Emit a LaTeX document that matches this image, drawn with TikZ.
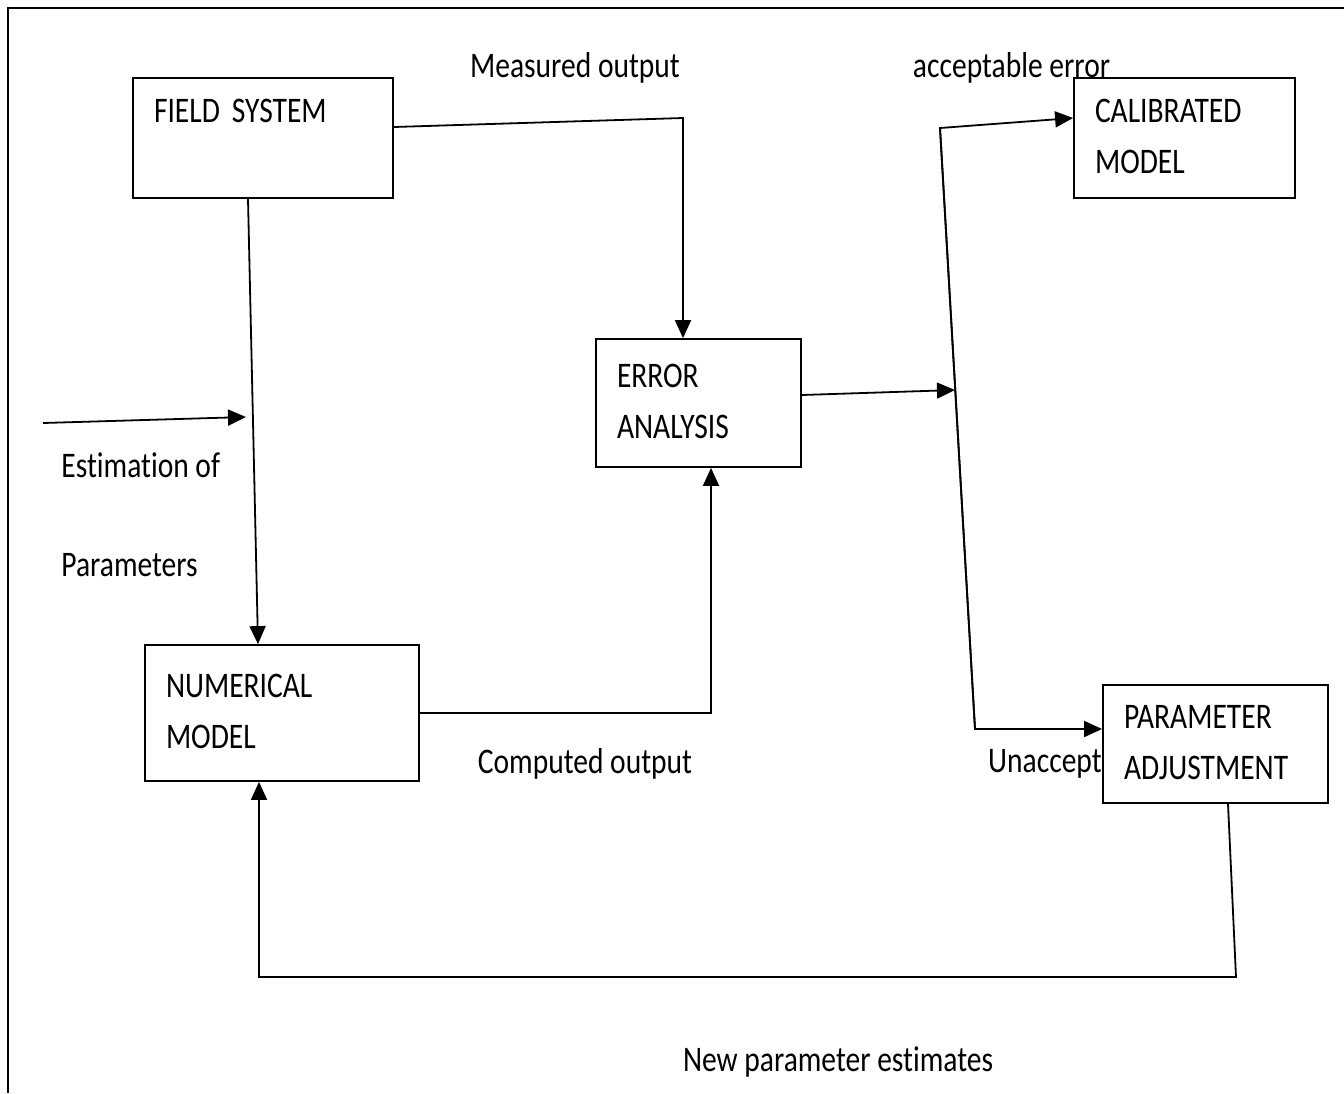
\documentclass[tikz,border=0pt]{standalone}
\usepackage{fontspec}
\setmainfont{Carlito}[FakeStretch=0.82, Ligatures=NoCommon]
\usepackage{tikz}
\usetikzlibrary{calc,positioning,arrows.meta}

\tikzset{
    box/.style={draw, line width=0.9pt, inner xsep=10.5pt, inner ysep=0pt, align=left,
        font={\fontsize{18pt}{25.5pt}\selectfont}},
    lbl/.style={inner sep=0pt, font={\fontsize{18pt}{22pt}\selectfont}},
    arr/.style={line width=0.9pt, -{Triangle[length=9pt,width=8pt]}}
}

\begin{document}
\begin{tikzpicture}[x=0.5pt, y=-0.5pt]
    \useasboundingbox (0,0) rectangle (1344,1093);
    % Outer frame
    \draw[line width=1pt] (8,1093) -- (8,8) -- (1344,8);

    % Blocks
    \node[box, minimum width=130pt, minimum height=60pt, text width=109pt] (field) at (263,138) {\strut\mbox{FIELD SYSTEM}\\\strut};
    \node[box, minimum width=110.5pt, minimum height=60pt, text width=89.5pt] (calib) at (1184.5,138) {\strut CALIBRATED\\\strut MODEL};
    \node[box, minimum width=102.5pt, minimum height=64pt, text width=81.5pt] (error) at (698.5,403) {\strut ERROR\\\strut ANALYSIS};
    \node[box, minimum width=137pt, minimum height=68pt, text width=116pt] (numer) at (282,713) {\strut NUMERICAL\\\strut MODEL};
    \node[box, minimum width=112.5pt, minimum height=59pt, text width=91.5pt] (param) at (1215.5,744) {\strut PARAMETER\\\strut ADJUSTMENT};

    % Labels
    \node[lbl] (measured) at (575,68) {Measured output};
    \node[lbl] (accept) at (1011.5,68) {acceptable error};
    \node[lbl, anchor=west] (estim) at (61,465) {Estimation of};
    \node[lbl, anchor=west] (params) at (61,565) {Parameters};
    \node[lbl] (computed) at (585,764) {Computed output};
    \node[lbl, anchor=east] (unaccept) at (param.west |- 0,764) {Unaccept};
    \node[lbl] (newest) at (838,1062) {New parameter estimates};

    % Corner points
    \coordinate (mo) at (683,118);
    \coordinate (in) at (43,423);
    \coordinate (inj) at (246,417);
    \coordinate (jn) at (955,390);
    \coordinate (jt) at (940,128);
    \coordinate (jb) at (975,729);
    \coordinate (fb) at (1236,977);

    % Connectors
    \draw[arr] ([yshift=5.5pt]field.east) -- (mo) -- (mo |- error.north);
    \draw[arr] ([xshift=-7.5pt]field.south) -- ([xshift=-12pt]numer.north);
    \draw[arr] (in) -- (inj);
    \draw[arr] (numer.east) -| ([xshift=6.25pt]error.south);
    \draw[arr] ([yshift=4pt]error.east) -- (jn);
    \draw[arr] (jb) -- (jt) -- ([yshift=10pt]calib.west);
    \draw[arr] (jt) -- (jb) -- (param.west |- jb);
    \draw[arr] ([xshift=6.25pt]param.south) -- (fb) -| ([xshift=-11.5pt]numer.south);
\end{tikzpicture}
\end{document}
